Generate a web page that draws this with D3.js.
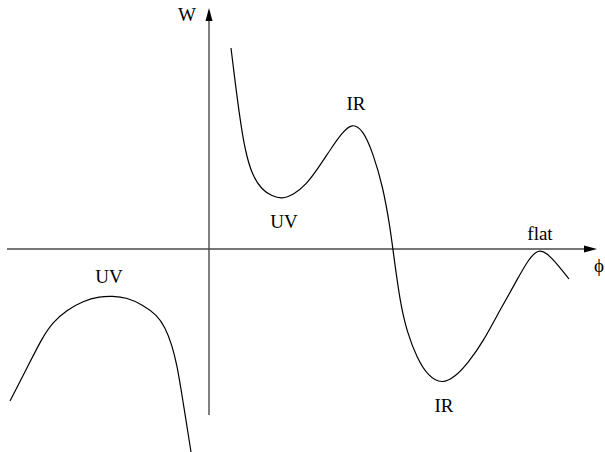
<!DOCTYPE html>
<html>
<head>
<meta charset="utf-8">
<script src="https://cdn.jsdelivr.net/npm/d3@7"></script>
<style>
  html, body { margin: 0; padding: 0; background: #fff; }
  svg { display: block; }
  text { font-family: "Liberation Serif", "Times New Roman", serif; font-size: 19px; fill: #000; }
</style>
</head>
<body>
<svg id="chart" width="605" height="452"></svg>
<script>
// Left branch (phi, W)
const leftPhi = [-1.99, -1.82, -1.67, -1.56, -1.42, -1.26, -1.09, -0.97, -0.82, -0.66, -0.52, -0.44, -0.37, -0.32, -0.27, -0.18];
const leftW   = [-1.52, -1.19, -0.89, -0.73, -0.61, -0.52, -0.475, -0.47, -0.485, -0.56, -0.66, -0.78, -0.96, -1.16, -1.46, -2.03];

// Right branch (phi, W)
const rightPhi = [0.22, 0.26, 0.31, 0.36, 0.43, 0.53, 0.63, 0.73, 0.84, 0.97, 1.10, 1.23, 1.33, 1.43, 1.54, 1.64, 1.74, 1.81, 1.84, 1.91, 1.98, 2.08, 2.19, 2.33, 2.46, 2.59, 2.74, 2.91, 3.08, 3.19, 3.29, 3.38, 3.49, 3.60];
const rightW   = [2.01, 1.68, 1.30, 0.99, 0.74, 0.59, 0.53, 0.50, 0.54, 0.64, 0.82, 1.02, 1.16, 1.26, 1.19, 0.96, 0.62, 0.22, -0.01, -0.53, -0.83, -1.09, -1.27, -1.35, -1.28, -1.14, -0.93, -0.61, -0.31, -0.11, 0.0, -0.04, -0.16, -0.30];

// Annotations
const labelText = ["UV", "UV", "IR", "IR", "flat"];
const labelPhi  = [-1.00, 0.75, 1.47, 2.35, 3.31];
const labelW    = [-0.34, 0.21, 1.39, -1.63, 0.09];

// Axes
const axisNames = ["ϕ", "W"];
const xAxisRange = [-2.02, 3.88];
const yAxisRange = [-1.66, 2.41];

const svg = d3.select("#chart");
const x = d3.scaleLinear().domain([-2, 4]).range([9, 609]);
const y = d3.scaleLinear().domain([-2, 2.5]).range([449, -1]);

const axisColor = "#4a4a4a";

// x axis
svg.append("line")
  .attr("x1", x(xAxisRange[0])).attr("x2", x(xAxisRange[1]) - 10)
  .attr("y1", y(0)).attr("y2", y(0))
  .attr("stroke", axisColor).attr("stroke-width", 1.4);
svg.append("path")
  .attr("d", `M${x(xAxisRange[1])},${y(0)} L${x(xAxisRange[1]) - 13},${y(0) - 3.5} L${x(xAxisRange[1]) - 13},${y(0) + 3.5} Z`)
  .attr("fill", "#000");

// y axis
svg.append("line")
  .attr("x1", x(0)).attr("x2", x(0))
  .attr("y1", y(yAxisRange[0])).attr("y2", y(yAxisRange[1]) + 10)
  .attr("stroke", axisColor).attr("stroke-width", 1.4);
svg.append("path")
  .attr("d", `M${x(0)},${y(yAxisRange[1])} L${x(0) - 3.5},${y(yAxisRange[1]) + 13} L${x(0) + 3.5},${y(yAxisRange[1]) + 13} Z`)
  .attr("fill", "#000");

const line = d3.line()
  .x(d => x(d[0]))
  .y(d => y(d[1]))
  .curve(d3.curveBasis);

const leftData = leftPhi.map((p, i) => [p, leftW[i]]);
const rightData = rightPhi.map((p, i) => [p, rightW[i]]);

svg.append("path").attr("d", line(leftData))
  .attr("fill", "none").attr("stroke", "#000").attr("stroke-width", 1.2);
svg.append("path").attr("d", line(rightData))
  .attr("fill", "none").attr("stroke", "#000").attr("stroke-width", 1.2);

// labels
svg.selectAll("text.lbl")
  .data(labelText)
  .enter().append("text")
  .attr("class", "lbl")
  .attr("x", (d, i) => x(labelPhi[i]))
  .attr("y", (d, i) => y(labelW[i]))
  .attr("text-anchor", "middle")
  .text(d => d);

// axis names
svg.append("text")
  .attr("x", x(3.90)).attr("y", y(-0.23))
  .attr("text-anchor", "middle")
  .text(axisNames[0]);
svg.append("text")
  .attr("x", x(-0.22)).attr("y", y(2.28))
  .attr("text-anchor", "middle")
  .text(axisNames[1]);
</script>
</body>
</html>
